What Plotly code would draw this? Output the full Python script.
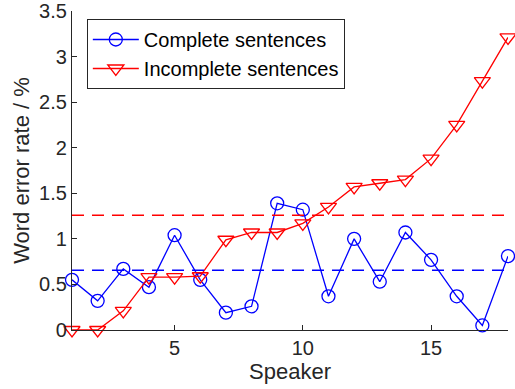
import plotly.graph_objects as go

speakers = list(range(1, 19))
complete = [0.55, 0.32, 0.67, 0.47, 1.04, 0.55, 0.19, 0.26, 1.39, 1.32,
            0.37, 1.00, 0.53, 1.07, 0.77, 0.37, 0.05, 0.81]
incomplete = [0.00, 0.00, 0.21, 0.58, 0.58, 0.59, 0.99, 1.07, 1.07, 1.17,
              1.35, 1.57, 1.61, 1.65, 1.88, 2.25, 2.73, 3.21]
mean_complete = 0.655
mean_incomplete = 1.26
x_ticks = [5, 10, 15]
y_ticks = [0, 0.5, 1, 1.5, 2, 2.5, 3, 3.5]

BLUE = "#0000FF"
RED = "#FF0000"
AX = "#262626"
FONT = "Liberation Sans, Arial, Helvetica, sans-serif"

fig = go.Figure()
fig.add_trace(go.Scatter(
    x=speakers, y=complete, mode="lines+markers", name="Complete sentences",
    line=dict(color=BLUE, width=1.3),
    marker=dict(symbol="circle-open", size=13, color=BLUE, line=dict(width=1.3, color=BLUE)),
    cliponaxis=False))
fig.add_trace(go.Scatter(
    x=speakers, y=incomplete, mode="lines+markers", name="Incomplete sentences",
    line=dict(color=RED, width=1.3),
    marker=dict(symbol="triangle-down-open", size=14, color=RED, line=dict(width=1.3, color=RED)),
    cliponaxis=False))
fig.add_trace(go.Scatter(
    x=[speakers[0], speakers[-1]], y=[mean_complete, mean_complete], mode="lines",
    line=dict(color=BLUE, width=1.5, dash="12px,8px"), showlegend=False, hoverinfo="skip"))
fig.add_trace(go.Scatter(
    x=[speakers[0], speakers[-1]], y=[mean_incomplete, mean_incomplete], mode="lines",
    line=dict(color=RED, width=1.5, dash="12px,8px"), showlegend=False, hoverinfo="skip"))

fig.update_layout(
    width=515, height=389,
    margin=dict(l=72, r=7, t=11, b=59, autoexpand=False),
    paper_bgcolor="white", plot_bgcolor="white",
    font=dict(family=FONT, size=20, color=AX),
    showlegend=True,
    legend=dict(x=0.034, y=0.975, xanchor="left", yanchor="top",
                bordercolor=AX, borderwidth=1, bgcolor="white",
                font=dict(size=20, color="black"),
                tracegroupgap=0, itemwidth=46),
    xaxis=dict(range=[1, 18], tickvals=x_ticks, ticks="inside", ticklen=5,
               tickcolor=AX, showline=True, linecolor=AX, linewidth=1.2,
               showgrid=False, zeroline=False, mirror=False, automargin=False,
               tickfont=dict(size=20, color=AX), ticklabeloverflow="allow",
               title=dict(text="Speaker", font=dict(size=22, color=AX), standoff=2)),
    yaxis=dict(range=[0, 3.5], tickvals=y_ticks, ticks="inside", ticklen=5,
               tickcolor=AX, showline=True, linecolor=AX, linewidth=1.2,
               showgrid=False, zeroline=False, mirror=False, automargin=False,
               tickfont=dict(size=20, color=AX), ticklabeloverflow="allow",
               title=dict(text="Word error rate / %", font=dict(size=22, color=AX), standoff=3)),
)

fig.write_html("out.html")
